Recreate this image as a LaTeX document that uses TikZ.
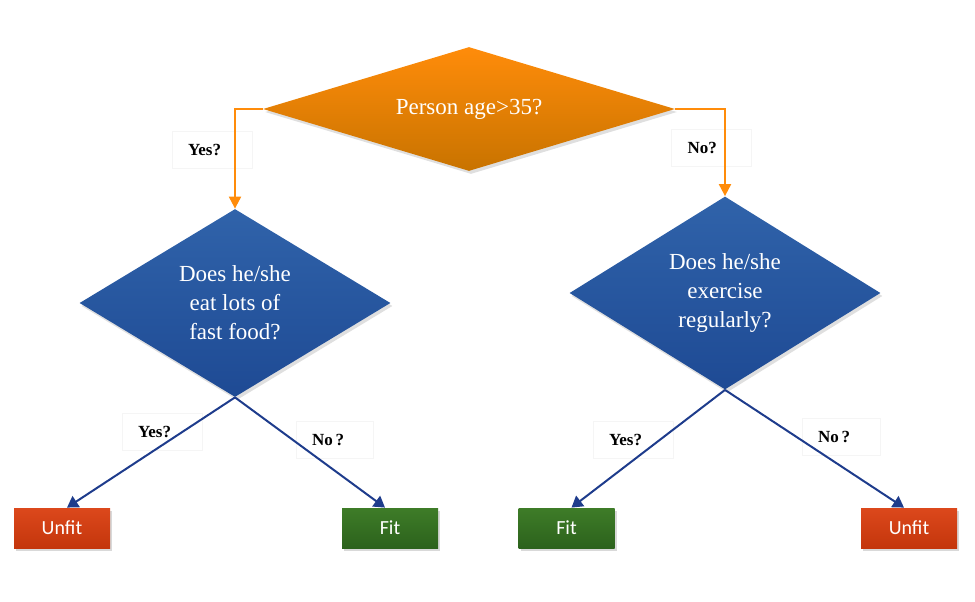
\documentclass[tikz,border=0pt]{standalone}
\usepackage{fontspec}
\setmainfont{Liberation Serif}
\newfontfamily\leaffont{Carlito}
\usepackage{tikz}
\usetikzlibrary{positioning}
\usetikzlibrary{shapes.geometric}
\usetikzlibrary{arrows.meta}
\usetikzlibrary{shadows}
\definecolor{myorange}{RGB}{255, 140, 10}
\definecolor{myorangedark}{RGB}{200, 115, 0}
\definecolor{myblue}{RGB}{48, 99, 170}
\definecolor{mybluedark}{RGB}{30, 74, 148}
\definecolor{myline}{RGB}{30, 60, 140}
\definecolor{myred}{RGB}{220, 72, 28}
\definecolor{myreddark}{RGB}{196, 54, 12}
\definecolor{mygreen}{RGB}{62, 124, 40}
\definecolor{mygreendark}{RGB}{44, 98, 28}

\begin{document}
\begin{tikzpicture}[x=1pt,y=-1pt,on grid,thick]
    % estilos
    \tikzset{
      question/.style={diamond,inner sep=0pt,align=center,text=white,
        font=\fontsize{23}{29}\selectfont,
        drop shadow={shadow xshift=2pt,shadow yshift=-3pt,opacity=.25}},
      leaf/.style={rectangle,minimum width=96pt,minimum height=40pt,text=white,
        font=\leaffont\fontsize{20}{24}\selectfont,
        drop shadow={shadow xshift=2pt,shadow yshift=-3pt,opacity=.3}},
      answer/.style={draw=black!4,thin,text width=48pt,inner xsep=16pt,align=left,
        minimum height=37pt,font=\bfseries\fontsize{17}{20}\selectfont},
      unfit/.style={leaf,top color=myred,bottom color=myreddark},
      fit/.style={leaf,top color=mygreen,bottom color=mygreendark},
      bluequestion/.style={question,minimum width=311pt,minimum height=188pt,
        top color=myblue,bottom color=mybluedark}
    }
    \useasboundingbox (0,0) rectangle (975,602);

    \node[question,shape aspect=3.3,minimum width=412pt,minimum height=124pt,
      top color=myorange,bottom color=myorangedark] (q_age) at (469,109) {Person age>35?};
    \node[bluequestion] (q_food) [below left=194pt and 234pt of q_age] {Does he/she\\eat lots of\\fast food?};
    \node[bluequestion,minimum height=193pt] (q_exer) [below right=184pt and 256pt of q_age] {Does he/she\\exercise\\regularly?};

    \node[unfit] (unfit_1) [below left=225pt and 173pt of q_food] {Unfit};
    \node[fit] (fit_1) [below right=225pt and 155pt of q_food] {Fit};
    \node[fit] (fit_2) [below left=235pt and 158.5pt of q_exer] {Fit};
    \node[unfit] (unfit_2) [below right=235pt and 184pt of q_exer] {Unfit};

    % etiquetas
    \node[answer] (yes_0) [below left=40.5pt and 257pt of q_age] {Yes?};
    \node[answer] (no_0) [below right=39pt and 242.5pt of q_age] {No?};
    \node[answer] (yes_1) [below left=128.5pt and 73pt of q_food] {Yes?};
    \node[answer,text width=45pt] (no_1) [below right=136.5pt and 99.5pt of q_food] {No\,?};
    \node[answer] (yes_2) [below left=146.5pt and 92pt of q_exer] {Yes?};
    \node[answer,text width=46pt] (no_2) [below right=144pt and 116pt of q_exer] {No\,?};

    \draw[myorange,line width=2pt,-{Triangle[length=12pt,width=12pt]}]
      (q_age.west) -| (q_food.north);
    \draw[myorange,line width=2pt,-{Triangle[length=12pt,width=12pt]}]
      (q_age.east) -| (q_exer.north);

    \path[myline,line width=2pt,-{Triangle[length=11pt,width=13pt]}]
      (q_food.south) edge ([xshift=5pt]unfit_1.north)
      (q_food.south) edge ([xshift=-5pt]fit_1.north)
      (q_exer.south) edge ([xshift=5pt]fit_2.north)
      (q_exer.south) edge ([xshift=-5pt]unfit_2.north);
\end{tikzpicture}
\end{document}
